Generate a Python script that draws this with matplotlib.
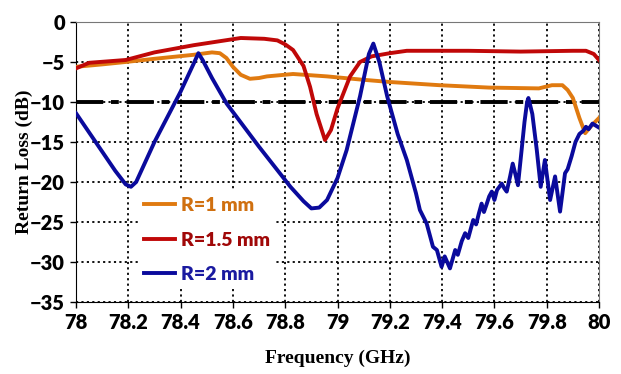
import matplotlib
matplotlib.use("Agg")
import matplotlib.pyplot as plt

# Return loss traces for three radii (frequency in GHz, S11 in dB)
freq_r1 = [78.0, 78.1, 78.19, 78.3, 78.45, 78.52, 78.55, 78.575, 78.60, 78.63,
           78.665, 78.70, 78.73, 78.83, 78.96, 79.09, 79.2, 79.39, 79.58, 79.77,
           79.82, 79.86, 79.88, 79.90, 79.925, 79.947, 79.97, 80.0]
s11_r1 = [-5.6, -5.3, -5.0, -4.6, -4.1, -3.8, -3.9, -4.5, -5.6, -6.6,
          -7.1, -7.0, -6.8, -6.5, -6.8, -7.2, -7.5, -7.9, -8.2, -8.3,
          -7.9, -7.9, -8.5, -9.5, -12.0, -13.9, -13.0, -12.0]

freq_r15 = [78.0, 78.05, 78.19, 78.3, 78.45, 78.55, 78.63, 78.72, 78.77, 78.80,
            78.83, 78.87, 78.895, 78.92, 78.952, 78.975, 79.0, 79.048, 79.086,
            79.13, 79.2, 79.265, 79.5, 79.7, 79.9, 79.95, 79.98, 80.0]
s11_r15 = [-5.8, -5.1, -4.75, -3.8, -2.9, -2.4, -2.0, -2.1, -2.3, -2.8,
           -3.5, -5.5, -8.1, -11.5, -14.75, -13.5, -10.8, -6.8, -5.0,
           -4.3, -3.9, -3.6, -3.6, -3.7, -3.6, -3.6, -4.0, -4.75]

freq_r2 = [78.0, 78.05, 78.1, 78.15, 78.19, 78.21, 78.23, 78.3, 78.4, 78.45,
           78.468, 78.485, 78.52, 78.576, 78.70, 78.82, 78.87, 78.90, 78.93, 78.96,
           79.0, 79.035, 79.086, 79.12, 79.137, 79.16, 79.19,
           79.23, 79.265, 79.30, 79.315, 79.341, 79.365, 79.38, 79.398, 79.41, 79.43,
           79.45, 79.46, 79.475, 79.488, 79.50, 79.51, 79.519, 79.53, 79.54, 79.551,
           79.56, 79.57, 79.58, 79.59, 79.60, 79.61, 79.628, 79.638, 79.647, 79.66,
           79.670, 79.68, 79.69, 79.704, 79.715, 79.725, 79.73, 79.745, 79.762, 79.777,
           79.793, 79.813, 79.832, 79.851, 79.87, 79.88, 79.895, 79.91, 79.925, 79.94,
           79.95, 79.96, 79.975, 79.99, 80.0]
s11_r2 = [-11.4, -13.8, -16.2, -18.6, -20.3, -20.6, -20.0, -15.0, -8.7, -5.2,
          -3.9, -4.8, -7.0, -10.2, -15.6, -20.6, -22.4, -23.3, -23.2, -22.25,
          -19.5, -16.0, -9.3, -4.0, -2.7, -5.0, -9.3,
          -14.0, -17.25, -21.4, -23.5, -25.2, -28.1, -28.5, -30.6, -29.3, -30.8,
          -28.5, -29.1, -27.4, -26.4, -27.0, -25.8, -24.75, -25.3, -24.0, -22.7,
          -23.75, -22.8, -21.8, -21.2, -22.25, -21.0, -20.2, -20.8, -21.2, -19.3,
          -17.7, -19.0, -20.4, -16.0, -12.5, -10.0, -9.5, -11.5, -16.0, -20.6,
          -17.25, -22.25, -19.3, -23.7, -18.9, -18.4, -16.8, -15.0, -14.0, -13.6,
          -13.1, -13.4, -12.7, -13.0, -13.2]

x_ticks = [78, 78.2, 78.4, 78.6, 78.8, 79, 79.2, 79.4, 79.6, 79.8, 80]
x_labels = ["78", "78.2", "78.4", "78.6", "78.8", "79", "79.2", "79.4", "79.6", "79.8", "80"]
y_ticks = [0, -5, -10, -15, -20, -25, -30, -35]
threshold = -10

fig = plt.figure(figsize=(6.21, 3.74), dpi=100)
ax = fig.add_axes([0.1224, 0.1925, 0.8422, 0.7487])

ax.plot(freq_r1, s11_r1, color="#E07A10", lw=2.8, label="R=1 mm", zorder=3,
        solid_joinstyle="round")
ax.plot(freq_r15, s11_r15, color="#C00808", lw=2.8, label="R=1.5 mm", zorder=3,
        solid_joinstyle="round")
ax.plot(freq_r2, s11_r2, color="#0A0A9C", lw=2.8, label="R=2 mm", zorder=4,
        solid_joinstyle="round")
ax.axhline(threshold, color="black", lw=2.8, dashes=(7, 2, 2, 2), zorder=2)

ax.set_xlim(78, 80)
ax.set_ylim(-35, 0)
ax.set_xticks(x_ticks)
ax.set_xticklabels(x_labels)
ax.set_yticks(y_ticks)
ax.grid(True, color="black", linestyle=(0, (1.2, 1.8)), lw=1.3, zorder=1)
ax.set_axisbelow(True)

for lbl in ax.get_xticklabels() + ax.get_yticklabels():
    lbl.set_fontfamily("Lato")
    lbl.set_fontweight("heavy")
    lbl.set_fontsize(14.5)
ax.tick_params(axis="both", direction="out", length=4, width=1, pad=4)

ax.spines["left"].set_color("black")
ax.spines["bottom"].set_color("black")
ax.spines["top"].set_color("#777777")
ax.spines["right"].set_color("#777777")

ax.set_xlabel("Frequency (GHz)", fontfamily="Liberation Serif", fontweight="bold",
              fontsize=14)
ax.set_ylabel("Return Loss (dB)", fontfamily="Liberation Serif", fontweight="bold",
              fontsize=14)
ax.xaxis.set_label_coords(0.5, -0.172)
ax.yaxis.set_label_coords(-0.083, 0.5)

leg = ax.legend(loc="upper left", bbox_to_anchor=(0.10, 0.43), frameon=True,
                facecolor="white", edgecolor="none", framealpha=1, fancybox=False,
                prop={"family": "Lato", "weight": "heavy", "size": 14},
                handlelength=1.6, handletextpad=0.3, labelspacing=0.9,
                borderpad=0.3)
leg.set_zorder(5)
for txt, col in zip(leg.get_texts(), ["#D07010", "#A00808", "#1A1AA0"]):
    txt.set_color(col)

fig.savefig("out.png", dpi=100)
